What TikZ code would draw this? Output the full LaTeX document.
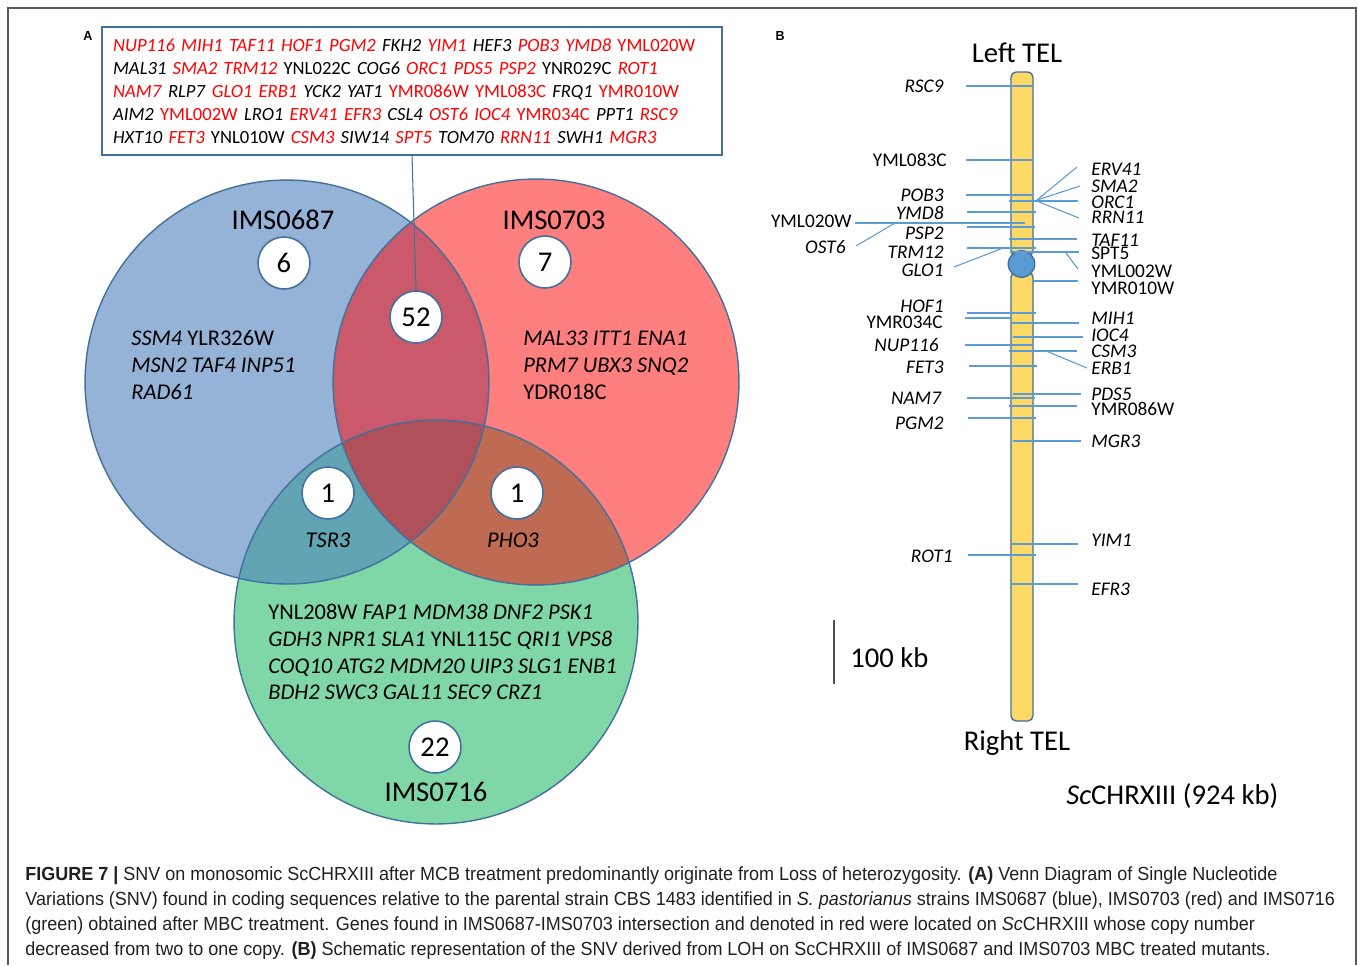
\documentclass[tikz,border=0pt]{standalone}
\usepackage{fontspec}
\setmainfont{Carlito}
\newfontfamily\capfont[FakeStretch=0.948]{Liberation Sans}

\definecolor{vennblue}{RGB}{79,129,189}
\definecolor{vennred}{RGB}{255,0,0}
\definecolor{venngreen}{RGB}{0,176,80}
\definecolor{rim}{RGB}{65,113,156}
\definecolor{tickblue}{RGB}{91,155,213}
\definecolor{chrom}{RGB}{255,217,102}
\definecolor{genered}{RGB}{255,0,0}
\definecolor{captext}{RGB}{35,31,32}

% genes on ScCHRXIII, shown in red
\newcommand{\lohi}[1]{\textcolor{genered}{\textit{#1}}}
\newcommand{\lohu}[1]{\textcolor{genered}{#1}}

\begin{document}
\begin{tikzpicture}[x=0.02cm, y=-0.02cm,
				big/.style={font=\fontsize{16.3}{19.5}\selectfont, inner sep=0pt},
				count/.style={circle, draw=rim, line width=0.9pt, fill=white, minimum size=1.04cm, inner sep=0pt, font=\fontsize{16.3}{19.5}\selectfont},
				genes/.style={font=\fontsize{12.8}{15.3}\selectfont, align=left, anchor=west, inner sep=0pt},
				genebox/.style={draw=rim, line width=0.8pt, minimum width=12.4cm, minimum height=2.56cm, text width=11.96cm, inner xsep=0.22cm, align=left, font=\fontsize{10.6}{13.04}\selectfont},
				chrlab/.style={font=\fontsize{11}{13}\selectfont, inner sep=0pt},
				tick/.style={draw=tickblue, line width=0.6pt},
				rimline/.style={draw=rim, line width=0.8pt},
				panel/.style={font=\capfont\bfseries\fontsize{7.5}{9}\selectfont, inner sep=0pt},
				capline/.style={font=\capfont\fontsize{10.8}{12}\selectfont, anchor=base west, inner sep=0pt, text=captext}]
\useasboundingbox (0,0) rectangle (1358,965);
\fill[white] (0,0) rectangle (1358,965);
\draw[black!65, line width=1pt] (8,965) -- (8,8) -- (1356,8) -- (1356,965);

% panel A
\node[panel] (pa) at (88,36) {A};
\node[genebox] (box) at (412,91) {%
\lohi{NUP116} \lohi{MIH1} \lohi{TAF11} \lohi{HOF1} \lohi{PGM2} \textit{FKH2} \lohi{YIM1} \textit{HEF3} \lohi{POB3} \lohi{YMD8} \lohu{YML020W}\\
\textit{MAL31} \lohi{SMA2} \lohi{TRM12} YNL022C \textit{COG6} \lohi{ORC1} \lohi{PDS5} \lohi{PSP2} YNR029C \lohi{ROT1}\\
\lohi{NAM7} \textit{RLP7} \lohi{GLO1} \lohi{ERB1} \textit{YCK2} \textit{YAT1} \lohu{YMR086W} \lohu{YML083C} \textit{FRQ1} \lohu{YMR010W}\\
\textit{AIM2} \lohu{YML002W} \textit{LRO1} \lohi{ERV41} \lohi{EFR3} \textit{CSL4} \lohi{OST6} \lohi{IOC4} \lohu{YMR034C} \textit{PPT1} \lohi{RSC9}\\
\textit{HXT10} \lohi{FET3} YNL010W \lohi{CSM3} \textit{SIW14} \lohi{SPT5} \textit{TOM70} \lohi{RRN11} \textit{SWH1} \lohi{MGR3}};

% venn circles
\fill[venngreen, fill opacity=0.5] (436,622) circle[radius=4.04cm];
\fill[vennblue, fill opacity=0.6] (287,382) circle[radius=4.04cm];
\fill[vennred, fill opacity=0.5] (536,382) circle[radius=4.06cm];
\draw[rimline] (436,622) circle[radius=4.04cm];
\draw[rimline] (287,382) circle[radius=4.04cm];
\draw[rimline] (536,382) circle[radius=4.06cm];

\node[big] (s687) at (283,220) {IMS0687};
\node[big] (s703) at (554,220) {IMS0703};
\node[big] (s716) at (436,792) {IMS0716};

\node[count] (n6) at (284,263) {6};
\node[count] (n7) at (545,262) {7};
\node[count] (n52) at (416,317) {52};
\node[count] (n1a) at (328,493) {1};
\node[count] (n1b) at (517,493) {1};
\node[count] (n22) at (435,747) {22};
\draw[rimline, line width=0.6pt] (box.south) -- (n52.north);

\node[genes] (g687) at (131,365) {\textit{SSM4} YLR326W\\ \textit{MSN2 TAF4 INP51}\\ \textit{RAD61}};
\node[genes] (g703) at (523,365) {\textit{MAL33 ITT1 ENA1}\\ \textit{PRM7 UBX3 SNQ2}\\ YDR018C};
\node[genes, anchor=center] (gtsr) at (328,540) {\textit{TSR3}};
\node[genes, anchor=center] (gpho) at (513,540) {\textit{PHO3}};
\node[genes] (g716) at (268,652) {YNL208W \textit{FAP1 MDM38 DNF2 PSK1}\\
\textit{GDH3 NPR1 SLA1} YNL115C \textit{QRI1 VPS8}\\
\textit{COQ10 ATG2 MDM20 UIP3 SLG1 ENB1}\\
\textit{BDH2 SWC3 GAL11 SEC9 CRZ1}};

% panel B
\node[panel] (pb) at (780,36) {B};
\node[big] (ltel) at (1017,53) {Left TEL};
\node[big] (rtel) at (1017,743) {Right TEL};
\node[big, anchor=west] (chrname) at (1066,796) {\textit{Sc}CHRXIII (924 kb)};
\node[big, anchor=west] (kb) at (850,658) {100 kb};
\coordinate (bar1) at (834,620);
\coordinate (bar2) at (834,684);
\draw[black!70, line width=0.7pt] (bar1) -- (bar2);

% chromosome
\draw[rim, fill=chrom, line width=0.8pt, rounded corners=3pt] (1011,72) rectangle (1033,256);
\draw[rim, fill=chrom, line width=0.8pt, rounded corners=3pt] (1011,272) rectangle (1033,721);
\node[circle, draw=rim, fill=tickblue, line width=0.8pt, minimum size=0.53cm, inner sep=0pt] (cen) at (1021.5,264) {};

% genes left of the chromosome
\foreach \nm/\txt/\tx/\ty/\xa/\xb/\ly in {
	rsc/\textit{RSC9}/944/86/966/1033/86,
	yml083/YML083C/947/160/966/1033/160,
	pob/\textit{POB3}/944/195/966/1033/195,
	ymd/\textit{YMD8}/944/213/967/1036/212,
	yml020/YML020W/852/221/855/1025/223,
	psp/\textit{PSP2}/944/233/967/1035/227,
	trm/\textit{TRM12}/944/252/967/1036/248,
	hof/\textit{HOF1}/944/306/967/1036/313,
	ymr034/YMR034C/943/322/965/1012/318,
	nup/\textit{NUP116}/939/345/965/1033/345,
	fet/\textit{FET3}/944/367/969/1037/366,
	nam/\textit{NAM7}/942/398/967/1035/398,
	pgm/\textit{PGM2}/944/423/968/1036/418,
	rot/\textit{ROT1}/953/556/968/1036/555}{
	\node[chrlab, anchor=east] (\nm) at (\tx,\ty) {\txt};
	\coordinate (\nm-a) at (\xa,\ly);
	\coordinate (\nm-b) at (\xb,\ly);
	\draw[tick] (\nm-a) -- (\nm-b);
}
\node[chrlab, anchor=east] (ost) at (846,247) {\textit{OST6}};
\node[chrlab, anchor=east] (glo) at (944,270) {\textit{GLO1}};
\coordinate (ost-a) at (856,246);
\coordinate (ost-b) at (895,223);
\coordinate (glo-a) at (954,267);
\coordinate (glo-b) at (1003,248);
\draw[tick] (ost-a) -- (ost-b);
\draw[tick] (glo-a) -- (glo-b);

% genes right of the chromosome
\foreach \nm/\txt/\ty/\xa/\xb/\ly in {
	orc/\textit{ORC1}/202/1009/1078/201,
	taf/\textit{TAF11}/240/1009/1077/239,
	spt/SPT5/253/1010/1079/252,
	ymr010/YMR010W/288/1033/1078/281,
	mih/\textit{MIH1}/318/1012/1079/323,
	ioc/\textit{IOC4}/335/1013/1083/337,
	csm/\textit{CSM3}/351/1009/1077/351,
	pds/\textit{PDS5}/394/1013/1081/394,
	ymr086/YMR086W/409/1009/1077/406,
	mgr/\textit{MGR3}/441/1013/1081/441,
	yim/\textit{YIM1}/540/1011/1078/544,
	efr/\textit{EFR3}/589/1011/1078/584}{
	\node[chrlab, anchor=west] (\nm) at (1091,\ty) {\txt};
	\coordinate (\nm-a) at (\xa,\ly);
	\coordinate (\nm-b) at (\xb,\ly);
	\draw[tick] (\nm-a) -- (\nm-b);
}
\foreach \nm/\txt/\ty/\xa/\ya/\xb/\yb in {
	erv/\textit{ERV41}/169/1077/167/1037/200,
	sma/\textit{SMA2}/186/1080/186/1037/200,
	rrn/\textit{RRN11}/217/1079/218/1039/202,
	yml002/YML002W/271/1078/269/1066/253,
	erb/\textit{ERB1}/368/1087/368/1046/351}{
	\node[chrlab, anchor=west] (\nm) at (1091,\ty) {\txt};
	\coordinate (\nm-a) at (\xa,\ya);
	\coordinate (\nm-b) at (\xb,\yb);
	\draw[tick] (\nm-a) -- (\nm-b);
}

% caption
\node[capline] (cap1) at (25,880) {\textbf{FIGURE 7 |} SNV on monosomic ScCHRXIII after MCB treatment predominantly originate from Loss of heterozygosity. \textbf{(A)} Venn Diagram of Single Nucleotide};
\node[capline] (cap2) at (25,905) {Variations (SNV) found in coding sequences relative to the parental strain CBS 1483 identified in \textit{S. pastorianus} strains IMS0687 (blue), IMS0703 (red) and IMS0716};
\node[capline] (cap3) at (25,930) {(green) obtained after MBC treatment. Genes found in IMS0687-IMS0703 intersection and denoted in red were located on \textit{Sc}CHRXIII whose copy number};
\node[capline] (cap4) at (25,955) {decreased from two to one copy. \textbf{(B)} Schematic representation of the SNV derived from LOH on ScCHRXIII of IMS0687 and IMS0703 MBC treated mutants.};
\end{tikzpicture}
\end{document}
